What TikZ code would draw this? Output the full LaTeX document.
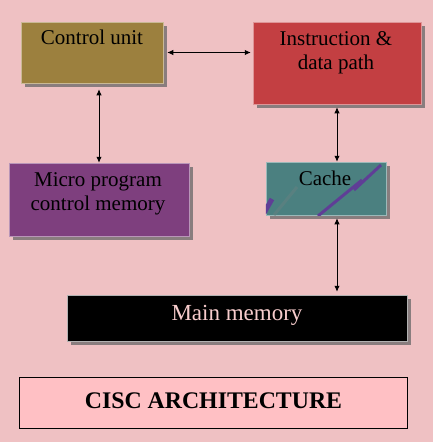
\documentclass[tikz,border=0pt]{standalone}
\usepackage{fontspec}
\setmainfont{Liberation Serif}
\usetikzlibrary{arrows.meta,shadows}

\definecolor{bgpink}{RGB}{239,193,195}
\definecolor{cuolive}{RGB}{156,128,62}
\definecolor{idred}{RGB}{195,63,66}
\definecolor{mppurple}{RGB}{126,63,126}
\definecolor{cateal}{RGB}{75,128,128}
\definecolor{streakviolet}{RGB}{95,62,150}
\definecolor{mmtext}{RGB}{248,205,205}
\definecolor{titlepink}{RGB}{255,192,196}

\tikzset{
  block/.style={draw=#1!55!white, line width=0.5pt, fill=#1,
    drop shadow={shadow xshift=4pt, shadow yshift=-4pt, fill=gray!70!bgpink!85!black, opacity=1}},
  lbl/.style={font=\fontsize{21}{24}\selectfont, align=center, inner sep=0pt},
  link/.style={<->, line width=0.9pt},
  streak/.style={streakviolet, line width=3pt}
}

\begin{document}
\begin{tikzpicture}[>={Latex[length=6pt,width=5.5pt]}, x=1pt, y=-1pt]
                \useasboundingbox (0,0) rectangle (433,442);
                \fill[bgpink] (0,0) rectangle (433,442);

                % boxes
                \node[block=cuolive, minimum width=142pt, minimum height=61pt] (cu) at (92,52.5) {};
                \node[lbl, anchor=base] (cut) at (92,44) {Control unit};

                \node[block=idred, minimum width=168pt, minimum height=82pt] (id) at (337,63) {};
                \node[lbl, anchor=north] (idt) at (336,31) {Instruction \&\\data path};

                \node[block=mppurple, minimum width=180pt, minimum height=73pt] (mp) at (99,199.5) {};
                \node[lbl, anchor=north] (mpt) at (98,172) {Micro program\\control memory};

                \node[block=cateal, minimum width=120pt, minimum height=53pt] (ca) at (326,188.5) {};
                \begin{scope}
                    \clip (ca.south west) rectangle (ca.north east);
                    \draw[gray!40!cateal, line width=3pt, opacity=0.7] (274,215) -- (297,187);
                    \draw[streak] (318,216) -- (362,180);
                    \draw[streak] (354,190) -- (381,165);
                    \draw[streak, line width=5pt] (264,213) -- (272,199);
                \end{scope}
                \node[lbl, anchor=base] (cat) at (325,185) {Cache};

                \node[block=black, draw=gray!60, minimum width=340pt, minimum height=46pt] (mm) at (237,318) {};
                \node[lbl, anchor=base, text=mmtext, font=\fontsize{23}{26}\selectfont] (mmt) at (237,320) {Main memory};

                % title
                \node[draw=black, line width=0.8pt, fill=titlepink, minimum width=388pt, minimum height=51pt] (ttl) at (213,402.5) {};
                \node[anchor=base, inner sep=0pt, font=\fontsize{23.8}{27}\selectfont\bfseries] (ttlt) at (213.5,408.5) {CISC ARCHITECTURE};

                % connections
                \draw[link, shorten <=4pt, shorten >=2pt] (cu.east) -- (cu.east -| id.west);
                \draw[link, shorten <=6pt] (mp.north |- cu.south) -- (mp.north);
                \draw[link, shorten <=3pt] (id.south) -- (id.south |- ca.north);
                \draw[link, shorten <=3pt, shorten >=3pt] (id.south |- ca.south) -- (id.south |- mm.north);
\end{tikzpicture}
\end{document}
